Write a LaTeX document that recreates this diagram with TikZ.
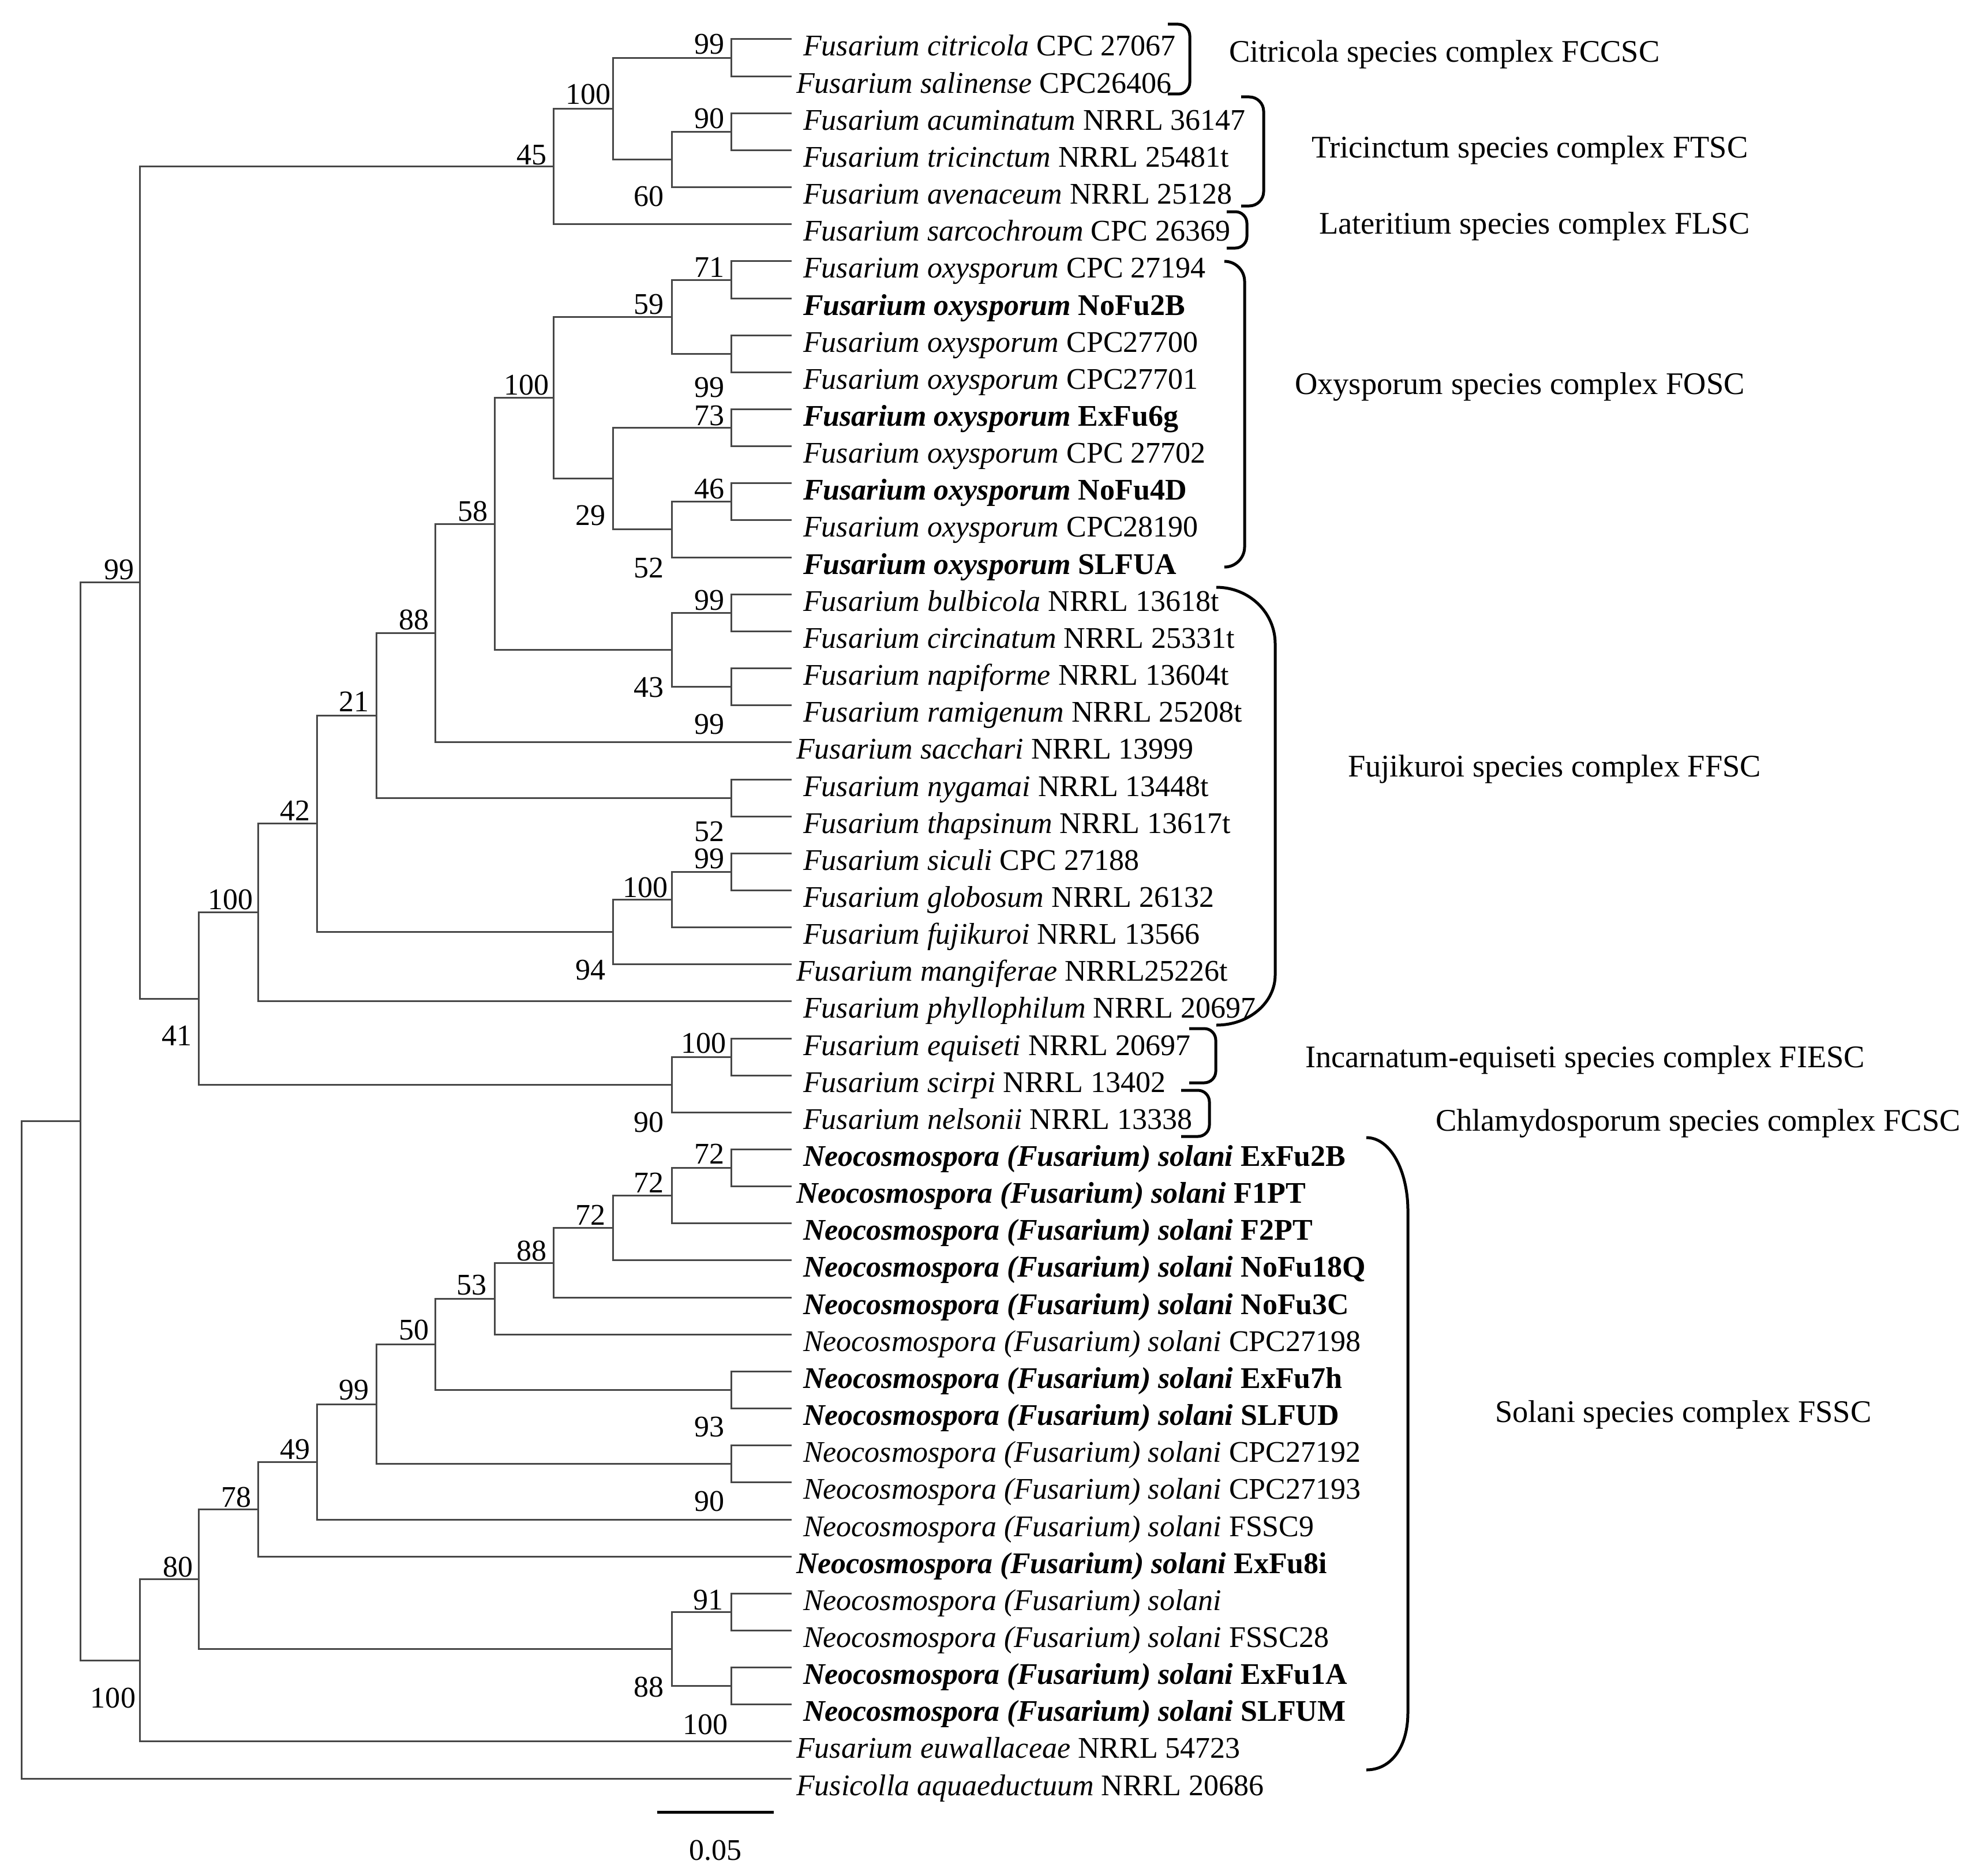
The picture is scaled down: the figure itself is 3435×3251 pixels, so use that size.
\documentclass[tikz,border=0pt]{standalone}
\usepackage{fontspec}
\setmainfont{Liberation Serif}
\begin{document}
\begin{tikzpicture}[x=0.2pt, y=-0.2pt,
  every node/.style={font=\fontsize{10.4}{12}\selectfont, inner sep=0pt},
  branch/.style={draw=black!72, line width=0.6pt, line cap=rect},
  brk/.style={draw=black, line width=1pt},
  tiplab/.style={anchor=base west, xshift=4.2pt, yshift=-5.8pt},
  tiplabL/.style={anchor=base west, xshift=1.8pt, yshift=-5.8pt},
  bs/.style={anchor=base east},
  clade/.style={anchor=base west, font=\fontsize{10.9}{12}\selectfont}]
\useasboundingbox (0,0) rectangle (3435,3251);
\fill[white] (0,0) rectangle (3435,3251);

% tips
\foreach \i in {1,...,48} \coordinate (t\i) at (1370,{68+(\i-1)*64.15});

% internal nodes
\coordinate (nRoot) at (37,2513.5);
\coordinate (nMain) at (139.5,1943.95);
\coordinate (nA) at (242,1009.8);
\coordinate (nB) at (959.5,288.55);
\coordinate (nD) at (1062,188.3);
\coordinate (nE) at (1267,100.1);
\coordinate (nF) at (1164.5,276.5);
\coordinate (nG) at (1267,228.4);
\coordinate (nH) at (1267,485.0);
\coordinate (nJ) at (1267,613.3);
\coordinate (nI) at (1164.5,549.15);
\coordinate (nM) at (1267,741.6);
\coordinate (nO) at (1267,869.85);
\coordinate (nN) at (1164.5,917.98);
\coordinate (nL) at (1062,829.79);
\coordinate (nK) at (959.5,689.47);
\coordinate (nR) at (1267,1062.35);
\coordinate (nS) at (1267,1190.65);
\coordinate (nQ) at (1164.5,1126.5);
\coordinate (nP) at (857,907.99);
\coordinate (nT) at (754.5,1097.44);
\coordinate (nV) at (1267,1383.1);
\coordinate (nU) at (652,1240.27);
\coordinate (nAA) at (1267,1511.4);
\coordinate (nZ) at (1164.5,1559.5);
\coordinate (nY) at (1062,1615.65);
\coordinate (nX) at (549.5,1427.96);
\coordinate (nAB) at (447,1581.93);
\coordinate (nAD) at (1267,1832.15);
\coordinate (nAC) at (1164.5,1880.28);
\coordinate (nW) at (344.5,1731.1);
\coordinate (nAE) at (1267,2024.6);
\coordinate (nAF) at (1164.5,2072.7);
\coordinate (nAG) at (1062,2128.85);
\coordinate (nAH) at (959.5,2188.98);
\coordinate (nAI) at (857,2251.14);
\coordinate (nAK) at (1267,2409.5);
\coordinate (nAJ) at (754.5,2330.32);
\coordinate (nAM) at (1267,2537.8);
\coordinate (nAL) at (652,2434.06);
\coordinate (nAN) at (549.5,2534.03);
\coordinate (nAO) at (447,2616.1);
\coordinate (nAS) at (1267,2794.4);
\coordinate (nAT) at (1267,2922.7);
\coordinate (nAR) at (1164.5,2858.55);
\coordinate (nAP) at (344.5,2737.3);
\coordinate (nAQ) at (242,2878.1);

% branches
\foreach \p/\c in {nRoot/nMain, nRoot/t48, nMain/nA, nMain/nAQ, nA/nB, nA/nW,
  nB/nD, nB/t6, nD/nE, nD/nF, nE/t1, nE/t2, nF/nG, nF/t5, nG/t3, nG/t4,
  nW/nAB, nW/nAC, nAB/nX, nAB/t27, nX/nU, nX/nY, nU/nT, nU/nV, nT/nP, nT/t20,
  nP/nK, nP/nQ, nK/nI, nK/nL, nI/nH, nI/nJ, nH/t7, nH/t8, nJ/t9, nJ/t10,
  nL/nM, nL/nN, nM/t11, nM/t12, nN/nO, nN/t15, nO/t13, nO/t14,
  nQ/nR, nQ/nS, nR/t16, nR/t17, nS/t18, nS/t19, nV/t21, nV/t22,
  nY/nZ, nY/t26, nZ/nAA, nZ/t25, nAA/t23, nAA/t24,
  nAC/nAD, nAC/t30, nAD/t28, nAD/t29,
  nAQ/nAP, nAQ/t47, nAP/nAO, nAP/nAR, nAO/nAN, nAO/t42, nAN/nAL, nAN/t41,
  nAL/nAJ, nAL/nAM, nAJ/nAI, nAJ/nAK, nAI/nAH, nAI/t36, nAH/nAG, nAH/t35,
  nAG/nAF, nAG/t34, nAF/nAE, nAF/t33, nAE/t31, nAE/t32, nAK/t37, nAK/t38,
  nAM/t39, nAM/t40, nAR/nAS, nAR/nAT, nAS/t43, nAS/t44, nAT/t45, nAT/t46}
  \draw[branch] (\p) |- (\c);

% tip labels
\node[tiplab] (lab1) at (t1) {\textit{Fusarium citricola} CPC 27067};
\node[tiplabL] (lab2) at (t2) {\textit{Fusarium salinense} CPC26406};
\node[tiplab] (lab3) at (t3) {\textit{Fusarium acuminatum} NRRL 36147};
\node[tiplab] (lab4) at (t4) {\textit{Fusarium tricinctum} NRRL 25481t};
\node[tiplab] (lab5) at (t5) {\textit{Fusarium avenaceum} NRRL 25128};
\node[tiplab] (lab6) at (t6) {\textit{Fusarium sarcochroum} CPC 26369};
\node[tiplab] (lab7) at (t7) {\textit{Fusarium oxysporum} CPC 27194};
\node[tiplab] (lab8) at (t8) {\textbf{\textit{Fusarium oxysporum} NoFu2B}};
\node[tiplab] (lab9) at (t9) {\textit{Fusarium oxysporum} CPC27700};
\node[tiplab] (lab10) at (t10) {\textit{Fusarium oxysporum} CPC27701};
\node[tiplab] (lab11) at (t11) {\textbf{\textit{Fusarium oxysporum} ExFu6g}};
\node[tiplab] (lab12) at (t12) {\textit{Fusarium oxysporum} CPC 27702};
\node[tiplab] (lab13) at (t13) {\textbf{\textit{Fusarium oxysporum} NoFu4D}};
\node[tiplab] (lab14) at (t14) {\textit{Fusarium oxysporum} CPC28190};
\node[tiplab] (lab15) at (t15) {\textbf{\textit{Fusarium oxysporum} SLFUA}};
\node[tiplab] (lab16) at (t16) {\textit{Fusarium bulbicola} NRRL 13618t};
\node[tiplab] (lab17) at (t17) {\textit{Fusarium circinatum} NRRL 25331t};
\node[tiplab] (lab18) at (t18) {\textit{Fusarium napiforme} NRRL 13604t};
\node[tiplab] (lab19) at (t19) {\textit{Fusarium ramigenum} NRRL 25208t};
\node[tiplabL] (lab20) at (t20) {\textit{Fusarium sacchari} NRRL 13999};
\node[tiplab] (lab21) at (t21) {\textit{Fusarium nygamai} NRRL 13448t};
\node[tiplab] (lab22) at (t22) {\textit{Fusarium thapsinum} NRRL 13617t};
\node[tiplab] (lab23) at (t23) {\textit{Fusarium siculi} CPC 27188};
\node[tiplab] (lab24) at (t24) {\textit{Fusarium globosum} NRRL 26132};
\node[tiplab] (lab25) at (t25) {\textit{Fusarium fujikuroi} NRRL 13566};
\node[tiplabL] (lab26) at (t26) {\textit{Fusarium mangiferae} NRRL25226t};
\node[tiplab] (lab27) at (t27) {\textit{Fusarium phyllophilum} NRRL 20697};
\node[tiplab] (lab28) at (t28) {\textit{Fusarium equiseti} NRRL 20697};
\node[tiplab] (lab29) at (t29) {\textit{Fusarium scirpi} NRRL 13402};
\node[tiplab] (lab30) at (t30) {\textit{Fusarium nelsonii} NRRL 13338};
\node[tiplab] (lab31) at (t31) {\textbf{\textit{Neocosmospora (Fusarium) solani} ExFu2B}};
\node[tiplabL] (lab32) at (t32) {\textbf{\textit{Neocosmospora (Fusarium) solani} F1PT}};
\node[tiplab] (lab33) at (t33) {\textbf{\textit{Neocosmospora (Fusarium) solani} F2PT}};
\node[tiplab] (lab34) at (t34) {\textbf{\textit{Neocosmospora (Fusarium) solani} NoFu18Q}};
\node[tiplab] (lab35) at (t35) {\textbf{\textit{Neocosmospora (Fusarium) solani} NoFu3C}};
\node[tiplab] (lab36) at (t36) {\textit{Neocosmospora (Fusarium) solani} CPC27198};
\node[tiplab] (lab37) at (t37) {\textbf{\textit{Neocosmospora (Fusarium) solani} ExFu7h}};
\node[tiplab] (lab38) at (t38) {\textbf{\textit{Neocosmospora (Fusarium) solani} SLFUD}};
\node[tiplab] (lab39) at (t39) {\textit{Neocosmospora (Fusarium) solani} CPC27192};
\node[tiplab] (lab40) at (t40) {\textit{Neocosmospora (Fusarium) solani} CPC27193};
\node[tiplab] (lab41) at (t41) {\textit{Neocosmospora (Fusarium) solani} FSSC9};
\node[tiplabL] (lab42) at (t42) {\textbf{\textit{Neocosmospora (Fusarium) solani} ExFu8i}};
\node[tiplab] (lab43) at (t43) {\textit{Neocosmospora (Fusarium) solani}};
\node[tiplab] (lab44) at (t44) {\textit{Neocosmospora (Fusarium) solani} FSSC28};
\node[tiplab] (lab45) at (t45) {\textbf{\textit{Neocosmospora (Fusarium) solani} ExFu1A}};
\node[tiplab] (lab46) at (t46) {\textbf{\textit{Neocosmospora (Fusarium) solani} SLFUM}};
\node[tiplabL] (lab47) at (t47) {\textit{Fusarium euwallaceae} NRRL 54723};
\node[tiplabL] (lab48) at (t48) {\textit{Fusicolla aquaeductuum} NRRL 20686};

% bootstrap values
\node[bs] (b1) at (948,285) {45};
\node[bs] (b2) at (1059,181) {100};
\node[bs] (b3) at (1256,94) {99};
\node[bs] (b4) at (1151,358) {60};
\node[bs] (b5) at (1256,223) {90};
\node[bs] (b6) at (1256,480) {71};
\node[bs] (b7) at (1151,544) {59};
\node[bs] (b8) at (952,684) {100};
\node[bs] (b9) at (1256,688) {99};
\node[bs] (b10) at (1256,737) {73};
\node[bs] (b11) at (1050,910) {29};
\node[bs] (b12) at (1256,864) {46};
\node[bs] (b13) at (1151,1001) {52};
\node[bs] (b14) at (846,903) {58};
\node[bs] (b15) at (1256,1057) {99};
\node[bs] (b16) at (1151,1208) {43};
\node[bs] (b17) at (1256,1272) {99};
\node[bs] (b18) at (744,1091) {88};
\node[bs] (b19) at (640,1233) {21};
\node[bs] (b20) at (233,1004) {99};
\node[bs] (b21) at (538,1422) {42};
\node[bs] (b22) at (1256,1458) {52};
\node[bs] (b23) at (1256,1505) {99};
\node[bs] (b24) at (1158,1555) {100};
\node[bs] (b25) at (1050,1698) {94};
\node[bs] (b26) at (439,1576) {100};
\node[bs] (b27) at (333,1812) {41};
\node[bs] (b28) at (1259,1825) {100};
\node[bs] (b29) at (1151,1962) {90};
\node[bs] (b30) at (1256,2017) {72};
\node[bs] (b31) at (1151,2067) {72};
\node[bs] (b32) at (1050,2123) {72};
\node[bs] (b33) at (948,2185) {88};
\node[bs] (b34) at (844,2244) {53};
\node[bs] (b35) at (744,2322) {50};
\node[bs] (b36) at (1256,2490) {93};
\node[bs] (b37) at (640,2426) {99};
\node[bs] (b38) at (1256,2619) {90};
\node[bs] (b39) at (538,2529) {49};
\node[bs] (b40) at (436,2612) {78};
\node[bs] (b41) at (335,2733) {80};
\node[bs] (b42) at (1254,2790) {91};
\node[bs] (b43) at (1151,2941) {88};
\node[bs] (b44) at (1262,3006) {100};
\node[bs] (b45) at (236,2960) {100};

% brackets
\draw[brk, rounded corners=4pt] (2024,42) -- (2062,42) -- (2062,163) -- (2024,163);
\draw[brk, rounded corners=5pt] (2151,168) -- (2190,168) -- (2190,357) -- (2151,357);
\draw[brk, rounded corners=4pt] (2126,367) -- (2161,367) -- (2161,430) -- (2126,430);
\draw[brk, rounded corners=7pt] (2122,453) -- (2157,453) -- (2157,983) -- (2122,983);
\draw[brk] (2108,1018) .. controls (2165,1018) and (2210,1062) .. (2210,1116)
  -- (2210,1690) .. controls (2210,1738) and (2165,1777) .. (2108,1777);
\draw[brk, rounded corners=4pt] (2061,1783) -- (2107,1783) -- (2107,1877) -- (2061,1877);
\draw[brk, rounded corners=4pt] (2047,1890) -- (2096,1890) -- (2096,1970) -- (2047,1970);
\draw[brk] (2368,1972) .. controls (2410,1972) and (2440,2030) .. (2440,2099)
  -- (2440,2968) .. controls (2440,3030) and (2410,3068) .. (2368,3068);

% clade labels
\node[clade] (c1) at (2129,108) {Citricola species complex FCCSC};
\node[clade] (c2) at (2272,274) {Tricinctum species complex FTSC};
\node[clade] (c3) at (2285,406) {Lateritium species complex FLSC};
\node[clade] (c4) at (2243,683) {Oxysporum species complex FOSC};
\node[clade] (c5) at (2335,1346) {Fujikuroi species complex FFSC};
\node[clade] (c6) at (2261,1850) {Incarnatum-equiseti species complex FIESC};
\node[clade] (c7) at (2487,1960) {Chlamydosporum species complex FCSC};
\node[clade] (c8) at (2590,2465) {Solani species complex FSSC};

% scale bar
\coordinate (sb1) at (1139,3141);
\coordinate (sb2) at (1341,3141);
\draw[line width=1pt] (sb1) -- (sb2);
\node[anchor=base] (sblab) at (1240,3224) {0.05};
\end{tikzpicture}
\end{document}
